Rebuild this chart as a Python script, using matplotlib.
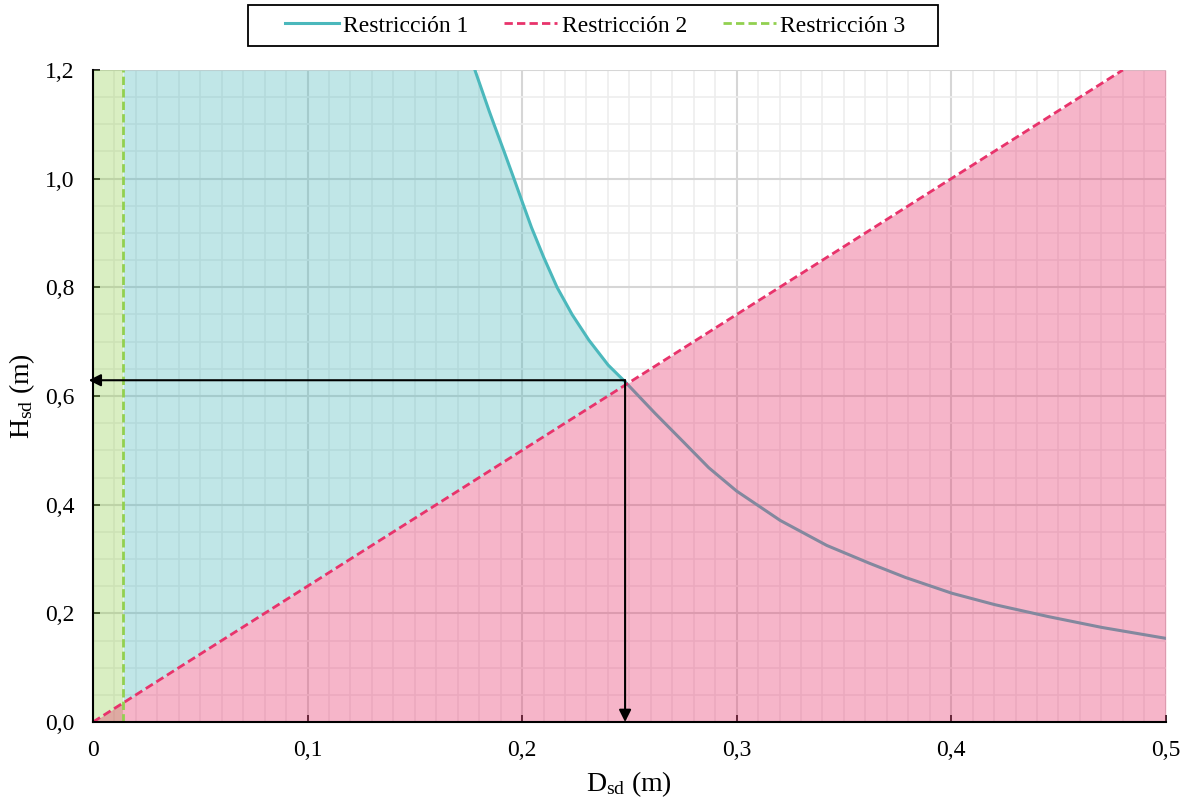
import matplotlib
matplotlib.use('Agg')
import matplotlib.pyplot as plt
import numpy as np
from matplotlib.patches import Rectangle
from matplotlib.ticker import MultipleLocator, FuncFormatter

plt.rcParams['font.family'] = ['Liberation Serif', 'DejaVu Serif']
plt.rcParams['mathtext.default'] = 'regular'

# Restriccion 1 (curve)
r1_d = [0.178, 0.1846, 0.1869, 0.1916, 0.1962, 0.2000, 0.2044, 0.2101, 0.2163,
        0.2233, 0.2311, 0.2401, 0.2478, 0.262, 0.2753, 0.287, 0.300, 0.3203,
        0.342, 0.362, 0.3787, 0.4003, 0.4203, 0.4453, 0.4703, 0.500]
r1_h = [1.200, 1.125, 1.100, 1.050, 1.000, 0.958, 0.910, 0.855, 0.800,
        0.750, 0.703, 0.657, 0.627, 0.568, 0.515, 0.468, 0.425, 0.371,
        0.325, 0.292, 0.266, 0.237, 0.216, 0.194, 0.174, 0.154]
# Restriccion 2 (straight line)
r2_d = [0.0, 0.48]
r2_h = [0.0, 1.2]
# Restriccion 3 (vertical line)
r3_d = 0.014
# solution point
sol_d, sol_h = 0.248, 0.629

c1, c2, c3 = '#4BB8BC', '#E8336B', '#92D050'

fig = plt.figure(figsize=(11.92, 8.07), dpi=100)
ax = fig.add_axes([0.078, 0.1053, 0.900, 0.808])
ax.set_xlim(0, 0.5)
ax.set_ylim(0, 1.2)

# grid
ax.set_axisbelow(True)
ax.xaxis.set_major_locator(MultipleLocator(0.1))
ax.xaxis.set_minor_locator(MultipleLocator(0.01))
ax.yaxis.set_major_locator(MultipleLocator(0.2))
ax.yaxis.set_minor_locator(MultipleLocator(0.05))
ax.grid(which='major', color='#D6D6D6', lw=1.5, zorder=0)
ax.grid(which='minor', color='#EDEDED', lw=1.2, zorder=0)

# green region
ax.axvspan(0, r3_d, color=c3, alpha=0.35, lw=0, zorder=1)

# cyan region: left of curve, above restriction 2
cx = np.array([r3_d] + [d for d in r1_d if d <= sol_d])
cy = np.array([1.2] + [h for d, h in zip(r1_d, r1_h) if d <= sol_d])
ax.fill_between(cx, np.interp(cx, r2_d, r2_h), cy, color=c1, alpha=0.35, lw=0, zorder=1)

# curve
ax.plot(r1_d, r1_h, color=c1, lw=2.2, zorder=2, label='Restricción 1')

# pink region below restriction 2 (drawn over the curve)
px = np.array([0.0, r2_d[1], 0.5])
ax.fill_between(px, 0, [0.0, r2_h[1], 1.2], color=c2, alpha=0.36, lw=0, zorder=3)

ax.plot(r2_d, r2_h, color=c2, lw=2, ls=(0, (3, 1.5)), zorder=4, label='Restricción 2')
ax.plot([r3_d, r3_d], [0, 1.2], color=c3, lw=2, ls=(0, (3, 1.5)), zorder=4, label='Restricción 3')

# arrows
arr = dict(arrowstyle='-|>', color='black', lw=1.5, mutation_scale=18, shrinkA=0, shrinkB=0)
ax.annotate('', xy=(-0.002, sol_h), xytext=(sol_d, sol_h), arrowprops=arr, zorder=5,
            annotation_clip=False)
ax.annotate('', xy=(sol_d, 0.0), xytext=(sol_d, sol_h), arrowprops=arr, zorder=5,
            annotation_clip=False)

# axes styling
for s in ['top', 'right']:
    ax.spines[s].set_visible(False)
for s in ['left', 'bottom']:
    ax.spines[s].set_color('black')
    ax.spines[s].set_linewidth(1.5)
    ax.spines[s].set_zorder(6)
ax.tick_params(which='major', direction='in', length=5, width=1.2, labelsize=17, pad=13)
ax.tick_params(which='minor', length=0)

fmt = FuncFormatter(lambda v, p: ('%g' % round(v, 2)).replace('.', ','))
ax.xaxis.set_major_formatter(fmt)
ax.yaxis.set_major_formatter(FuncFormatter(lambda v, p: ('%.1f' % v).replace('.', ',')))

ax.set_xlabel('D$_{sd}$ (m)', fontsize=20, labelpad=6)
ax.set_ylabel('H$_{sd}$ (m)', fontsize=20, labelpad=6)

# legend with a separate, wider frame
fig.legend(loc='center', bbox_to_anchor=(0.4996, 0.968), ncol=3, fontsize=17,
           frameon=False, handlelength=2.25, handletextpad=0.2, columnspacing=1.5,
           borderpad=0)
fig.patches.append(Rectangle((248 / 1192, 1 - 46 / 807), 690 / 1192, 41 / 807,
                             transform=fig.transFigure, fill=False, edgecolor='black',
                             lw=1.3))

fig.savefig('out.png', dpi=100)
